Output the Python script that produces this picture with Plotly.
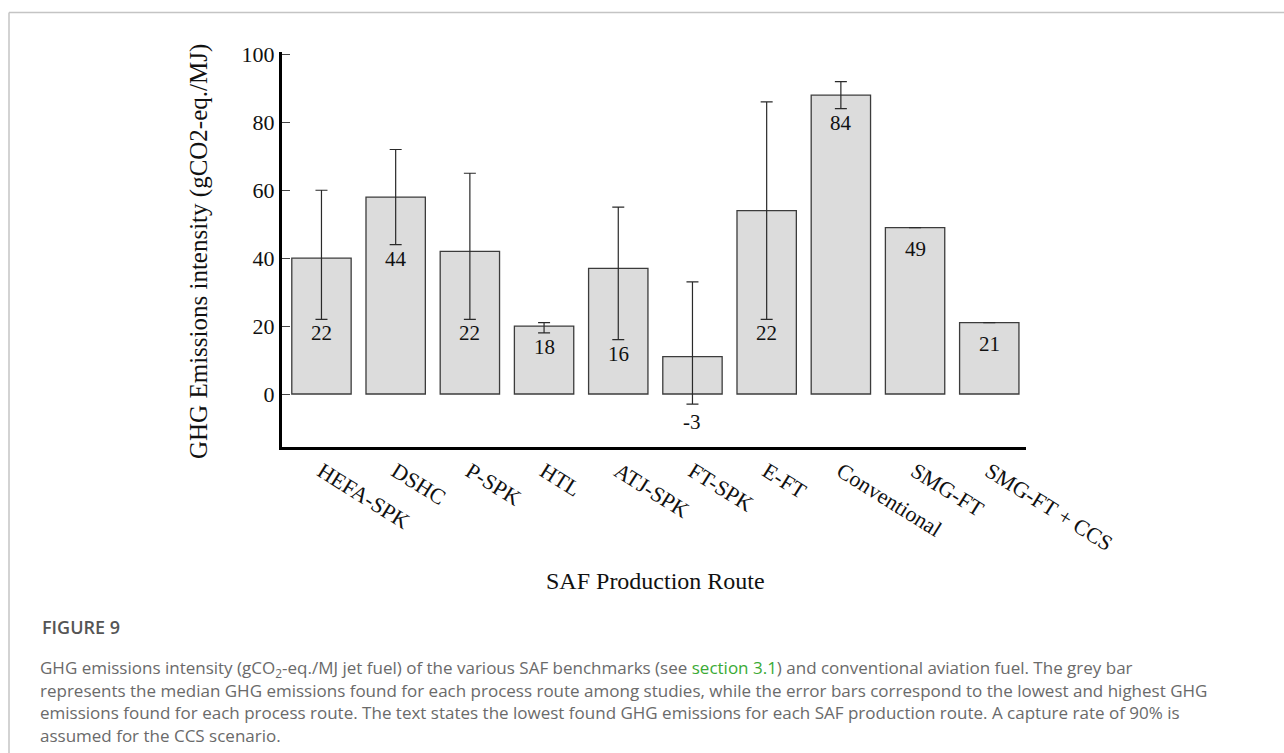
import plotly.graph_objects as go

# ---------------- data ----------------
routes = ["HEFA-SPK", "DSHC", "P-SPK", "HTL", "ATJ-SPK", "FT-SPK", "E-FT",
          "Conventional", "SMG-FT", "SMG-FT + CCS"]
median_ghg = [40, 58, 42, 20, 37, 11, 54, 88, 49, 21]
lowest_ghg = [22, 44, 22, 18, 16, -3, 22, 84, 49, 21]
highest_ghg = [60, 72, 65, 21, 55, 33, 86, 92, 49, 21]
y_ticks = [0, 20, 40, 60, 80, 100]

caption_title = "FIGURE 9"
caption_lines = [
    "GHG emissions intensity (gCO<sub>2</sub>-eq./MJ jet fuel) of the various SAF benchmarks (see "
    "<span style='color:#3aaa35'>section 3.1</span>) and conventional aviation fuel. The grey bar",
    "represents the median GHG emissions found for each process route among studies, while the error bars correspond to the lowest and highest GHG",
    "emissions found for each process route. The text states the lowest found GHG emissions for each SAF production route. A capture rate of 90% is",
    "assumed for the CCS scenario.",
]

# ---------------- layout geometry ----------------
W, H = 1284, 753
ML, MR, MT, MB = 282, 258, 52, 306


def px(x):
    return (x - ML) / (W - ML - MR)


def py(y):
    return (H - MB - y) / (H - MT - MB)


SERIF = "Liberation Serif, Times New Roman, serif"
SANS = "Open Sans, Lato, sans-serif"

err_plus = [h - m for h, m in zip(highest_ghg, median_ghg)]
err_minus = [m - l for m, l in zip(median_ghg, lowest_ghg)]

fig = go.Figure()
fig.add_trace(go.Bar(
    x=routes, y=median_ghg,
    marker=dict(color="#dcdcdc", line=dict(color="#3c3c3c", width=1.3)),
    error_y=dict(type="data", symmetric=False, array=err_plus, arrayminus=err_minus,
                 color="#2a2a2a", thickness=1.2, width=6),
    showlegend=False,
))

annotations = []
for r, lo, hi in zip(routes, lowest_ghg, highest_ghg):
    if hi == lo:
        shift = -21
    elif lo < 0:
        shift = -18
    else:
        shift = -14
    annotations.append(dict(
        x=r, y=lo, xref="x", yref="y", text=f"{lo:g}", showarrow=False,
        yanchor="middle", yshift=shift,
        font=dict(family=SERIF, size=21, color="#111"),
    ))

# axis titles
annotations.append(dict(
    x=px(199), y=py(252), xref="paper", yref="paper",
    text="GHG Emissions intensity (gCO2-eq./MJ)", textangle=-90, showarrow=False,
    xanchor="center", yanchor="middle",
    font=dict(family=SERIF, size=25, color="#111"),
))
annotations.append(dict(
    x=px(655), y=py(581), xref="paper", yref="paper",
    text="SAF Production Route", showarrow=False,
    xanchor="center", yanchor="middle",
    font=dict(family=SERIF, size=24, color="#111"),
))

# caption
annotations.append(dict(
    x=px(40), y=py(627), xref="paper", yref="paper", text=caption_title,
    showarrow=False, xanchor="left", yanchor="middle",
    font=dict(family=SANS, size=18, color="#555", weight=600),
))
for i, line in enumerate(caption_lines):
    annotations.append(dict(
        x=px(39), y=py(668 + i * 22.4), xref="paper", yref="paper", text=line,
        showarrow=False, xanchor="left", yanchor="middle", borderpad=0,
        font=dict(family=SANS, size=17, color="#6a6a6a"),
    ))

shapes = [
    dict(type="line", xref="paper", yref="paper", x0=px(9), x1=px(9), y0=py(753), y1=py(12.5),
         line=dict(color="#c4c4c4", width=1.5)),
    dict(type="line", xref="paper", yref="paper", x0=px(9), x1=px(1284), y0=py(12.5), y1=py(12.5),
         line=dict(color="#c4c4c4", width=1.5)),
]

fig.update_layout(
    width=W, height=H,
    margin=dict(l=ML, r=MR, t=MT, b=MB, pad=0),
    paper_bgcolor="white", plot_bgcolor="white",
    bargap=0.2,
    annotations=annotations,
    shapes=shapes,
    xaxis=dict(
        range=[-0.532, 9.495], showgrid=False, zeroline=False,
        showline=True, linecolor="black", linewidth=3,
        ticks="", tickangle=32,
        tickfont=dict(family=SERIF, size=22, color="#111"),
    ),
    yaxis=dict(
        range=[-15.6, 100.7], showgrid=False, zeroline=False,
        showline=True, linecolor="black", linewidth=3,
        tickvals=y_ticks, ticks="inside", ticklen=8, tickwidth=1, tickcolor="#444",
        tickfont=dict(family=SERIF, size=22, color="#111"),
    ),
)

fig.write_html("out.html")
